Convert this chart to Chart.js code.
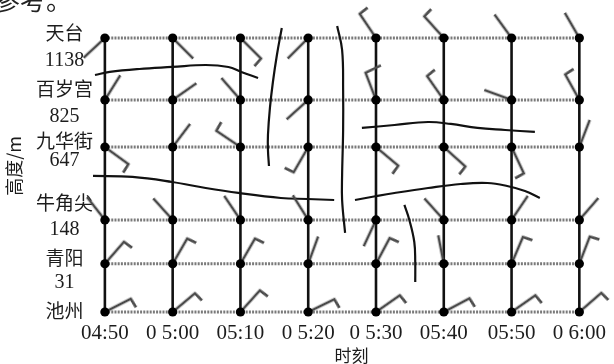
<!DOCTYPE html>
<html>
<head>
<meta charset="utf-8">
<script src="https://cdn.jsdelivr.net/npm/chart.js@4.4.1/dist/chart.umd.min.js"></script>
<style>
  html, body { margin: 0; padding: 0; background: #fff; overflow: hidden; }
  #wrap { position: relative; width: 614px; height: 364px; overflow: hidden; }
  #note { position: absolute; left: -6px; top: -14px; font: 26px "Noto Sans CJK SC"; color: #222; line-height: 1; }
</style>
</head>
<body>
<div id="wrap">
  <canvas id="windChart" width="614" height="364"></canvas>
  <div id="note">参考。</div>
</div>
<script>
// Time axis (categories) and the labels as printed under the chart
const times = ['04:50', '05:00', '05:10', '05:20', '05:30', '05:40', '05:50', '06:00'];
const timeLabels = ['04:50', '0 5:00', '05:10', '0 5:20', '0 5:30', '05:40', '05:50', '0 6:00'];

// Stations, top to bottom, and their row level on the height axis
const stations = ['天台', '百岁宫', '九华街', '牛角尖', '青阳', '池州'];
const stationLevel = [5, 3.87, 3.01, 1.68, 0.88, 0];

// Left axis labels (station names and heights in m), bottom to top
const axisLabels = ['池州', '31', '青阳', '148', '牛角尖', '647', '九华街', '825', '百岁宫', '1138', '天台'];
const axisLabelLevel = [0.02, 0.53, 0.985, 1.50, 1.99, 2.76, 3.12, 3.56, 4.07, 4.58, 5.09];

// Wind barb direction (degrees, clockwise from up), one row per station
const windDir = [
    [227, 135, 135, 225, 326, 318, 324, 330],
    [32, 55, 319, 228, 339, 325, 290, 331],
    [126, 37, 304, 210, 130, 132, 155, 21],
    [322, 318, 326, 328, 205, 318, 34, 41],
    [41, 30, 30, 20, 28, 349, 23, 21],
    [63, 50, 42, 64, 55, 62, 55, 49]
];
// Feathers on each barb: 0 none, 1 short, 2 long
const windFeather = [
    [0, 0, 1, 0, 1, 1, 0, 0],
    [0, 0, 0, 0, 2, 1, 0, 1],
    [1, 0, 1, 1, 1, 1, 1, 0],
    [0, 0, 0, 0, 0, 0, 0, 0],
    [1, 1, 1, 0, 1, 0, 1, 1],
    [1, 1, 1, 1, 1, 1, 1, 1]
];

// Hand drawn boundary lines, [time index, level]
const lineA = [[-0.146, 4.325], [0.073, 4.38], [0.51, 4.434], [0.992, 4.471], [1.487, 4.507], [1.823, 4.471], [2.013, 4.38], [2.26, 4.27]];
const lineB = [[-0.175, 2.482], [0.408, 2.464], [0.992, 2.372], [1.487, 2.263], [1.969, 2.172], [2.596, 2.08], [2.99, 2.062], [3.383, 2.044]];
const lineC = [[3.792, 3.358], [4.273, 3.412], [4.769, 3.467], [5.104, 3.431], [5.498, 3.358], [5.906, 3.321], [6.344, 3.285]];
const lineD = [[3.69, 2.044], [4.01, 2.117], [4.273, 2.172], [4.769, 2.263], [5.25, 2.336], [5.644, 2.354], [5.935, 2.299], [6.198, 2.208], [6.417, 2.08]];
const lineE = [[2.61, 5.182], [2.538, 4.69], [2.479, 4.197], [2.435, 3.723], [2.406, 3.23], [2.406, 2.956], [2.421, 2.664]];
const lineF = [[3.427, 5.219], [3.5, 4.781], [3.515, 4.051], [3.515, 3.321], [3.5, 2.5], [3.5, 2.044], [3.544, 1.442]];
const lineG = [[4.419, 1.953], [4.492, 1.679], [4.565, 1.277], [4.579, 0.912], [4.579, 0.547]];

const cjk = '"Noto Sans CJK SC", "Noto Sans CJK JP", sans-serif';
const serif = '"Liberation Serif", "DejaVu Serif", serif';
const ink = '#1c1c1c';

// Barb glyph pointing up from the centre; Chart.js rotates it per point
function barbImage(cls) {
    const L = 29, size = 76, c = size / 2;
    const cv = document.createElement('canvas');
    cv.width = size; cv.height = size;
    const g = cv.getContext('2d');
    g.strokeStyle = '#4a4a4a';
    g.lineWidth = 2.6;
    g.lineJoin = 'miter';
    g.beginPath();
    g.moveTo(c, c);
    g.lineTo(c, c - L);
    if (cls > 0) {
        const f = cls === 2 ? 17 : 10;
        const a = 85 * Math.PI / 180;
        g.lineTo(c + f * Math.sin(a), c - L - f * Math.cos(a));
    }
    g.stroke();
    return cv;
}

function toPts(arr) {
    return arr.map(p => ({ x: p[0], y: p[1] }));
}

function buildChart() {
    const barbs = [barbImage(0), barbImage(1), barbImage(2)];
    const points = [], styles = [], rotations = [];
    stations.forEach((s, r) => {
        times.forEach((t, i) => {
            points.push({ x: i, y: stationLevel[r] });
            styles.push(barbs[windFeather[r][i]]);
            rotations.push(windDir[r][i]);
        });
    });

    const datasets = [];

    // dots
    datasets.push({
        data: points, pointRadius: 4.6, pointBackgroundColor: '#000', pointBorderWidth: 0,
        showLine: false, clip: false, order: 0
    });
    // wind barbs
    datasets.push({
        data: points, pointStyle: styles, pointRotation: rotations, pointRadius: 5,
        showLine: false, clip: false, order: 1
    });
    // boundary lines
    [lineA, lineB, lineC, lineD, lineE, lineF, lineG].forEach(l => {
        datasets.push({
            data: toPts(l), showLine: true, borderColor: '#111', borderWidth: 2.2,
            tension: 0.4, pointRadius: 0, clip: false, order: 2
        });
    });
    // dotted station rows
    stationLevel.forEach(lv => {
        datasets.push({
            data: [{ x: 0, y: lv }, { x: times.length - 1, y: lv }], showLine: true,
            borderColor: '#7a7a7a', borderWidth: 3, borderDash: [2, 1.2],
            pointRadius: 0, clip: false, order: 3
        });
    });
    // time columns
    times.forEach((t, i) => {
        datasets.push({
            data: [{ x: i, y: stationLevel[stationLevel.length - 1] }, { x: i, y: stationLevel[0] }],
            showLine: true, borderColor: '#111', borderWidth: 2.6,
            pointRadius: 0, clip: false, order: 3
        });
    });

    new Chart(document.getElementById('windChart'), {
        type: 'scatter',
        data: { datasets },
        options: {
            responsive: false,
            animation: false,
            events: [],
            layout: { padding: { top: 20, right: 0, bottom: 0, left: 0 } },
            plugins: { legend: { display: false }, tooltip: { enabled: false } },
            scales: {
                x: {
                    type: 'linear', min: -0.1458, max: 7.4229,
                    grid: { display: false, drawTicks: false },
                    border: { display: false },
                    afterBuildTicks: s => { s.ticks = times.map((t, i) => ({ value: i })); },
                    afterFit: s => { s.height = 52; },
                    ticks: {
                        autoSkip: false, maxRotation: 0, padding: 2, color: ink,
                        font: { family: serif, size: 21, lineHeight: 1.85 },
                        callback: (v, i) => timeLabels[i]
                    },
                    title: {
                        display: true, text: '时刻', color: ink,
                        font: { family: cjk, size: 17, lineHeight: 1 },
                        padding: { top: 0, bottom: 0 }
                    }
                },
                y: {
                    type: 'linear', min: 0, max: 5.328,
                    grid: { display: false, drawTicks: false },
                    border: { display: false },
                    afterBuildTicks: s => { s.ticks = axisLabelLevel.map(v => ({ value: v })); },
                    afterFit: s => { s.width = 95; },
                    ticks: {
                        autoSkip: false, crossAlign: 'center', padding: 2, color: ink,
                        font: c => /\d/.test(axisLabels[c.index])
                            ? { family: serif, size: 20 }
                            : { family: cjk, size: 19 },
                        callback: (v, i) => axisLabels[i]
                    },
                    title: {
                        display: true, text: '高度/m', color: ink,
                        font: { family: cjk, size: 18, lineHeight: 1 },
                        padding: { top: 5, bottom: 0 }
                    }
                }
            }
        }
    });
}

Promise.all([
    document.fonts.load('19px "Noto Sans CJK SC"', '天台时刻'),
    document.fonts.load('20px "Liberation Serif"', '0123')
]).then(buildChart, buildChart);
</script>
</body>
</html>
